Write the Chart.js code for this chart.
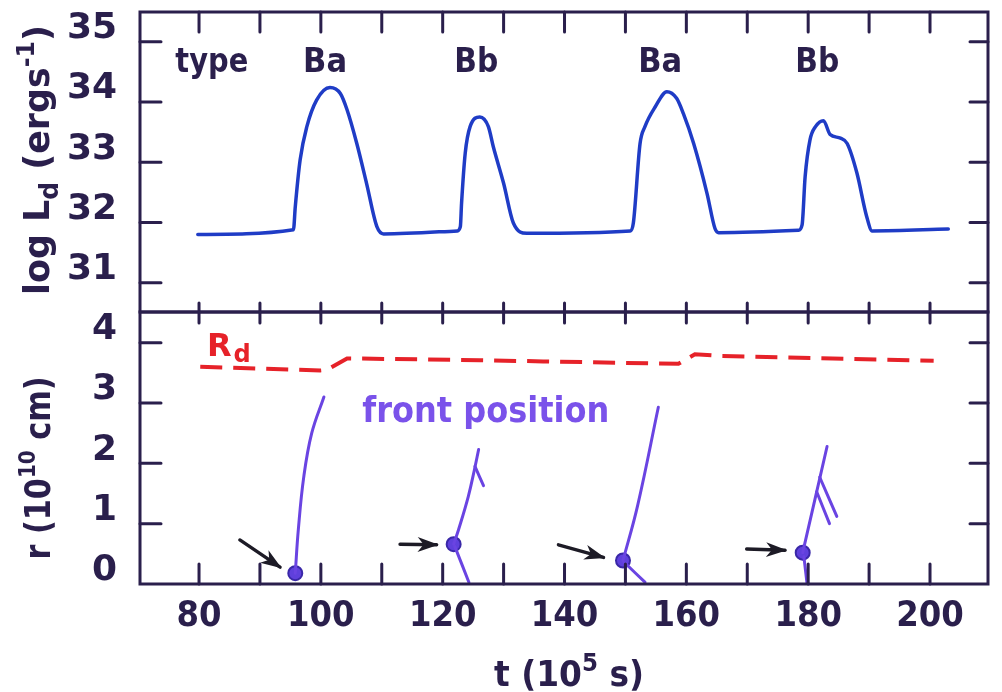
<!DOCTYPE html>
<html><head><meta charset="utf-8">
<script src="https://cdn.jsdelivr.net/npm/chart.js@4.4.1/dist/chart.umd.min.js"></script>
<style>
html,body{margin:0;padding:0;background:#fff;}
#wrap{position:relative;width:1002px;height:692px;background:#fff;}
canvas{position:absolute;left:0;top:0;}
</style></head><body>
<div id="wrap"><canvas id="topc" width="1002" height="692"></canvas><canvas id="botc" width="1002" height="692"></canvas></div>
<script>
// ---------------- data ----------------
const xTicks = [80, 90, 100, 110, 120, 130, 140, 150, 160, 170, 180, 190, 200];
const lumTicks = [31, 32, 33, 34, 35];
const rTicks = [0, 1, 2, 3, 4];

// log L_d (erg s^-1) vs t (1e5 s)
const tLum  = [79.8, 95.5, 95.8, 96.6, 97.7, 99.3, 101.5, 103.2, 104.3, 105.9, 107.5, 109.2, 110.3,
               122.4, 122.9, 123.1, 123.7, 124.5, 126.1, 127.5, 128.3, 130.0, 131.6, 133.8,
               150.8, 151.3, 152.4, 153.2, 154.9, 156.8, 158.4, 159.5, 161.2, 163.4, 164.7, 165.3,
               178.4, 179.0, 179.5, 180.3, 181.2, 182.5, 183.6, 185.3, 186.4, 188.0, 189.6, 190.5, 203.0];
const logLd = [31.80, 31.88, 32.26, 33.04, 33.59, 34.03, 34.24, 34.14, 33.87, 33.31, 32.65, 31.93, 31.81,
               31.86, 31.93, 32.32, 33.15, 33.59, 33.75, 33.59, 33.26, 32.65, 31.99, 31.82,
               31.86, 31.99, 33.31, 33.59, 33.92, 34.17, 34.06, 33.81, 33.31, 32.48, 31.90, 31.83,
               31.87, 31.96, 32.76, 33.37, 33.59, 33.69, 33.46, 33.40, 33.31, 32.82, 32.10, 31.86, 31.89];

// R_d (1e10 cm)
const tRd = [80.2, 99.9, 101.0, 104.3, 126.1, 136.5, 158.7, 161.4, 165.5, 200.6];
const rRd = [3.60, 3.54, 3.55, 3.74, 3.71, 3.69, 3.65, 3.81, 3.78, 3.70];

// front positions
const front1T = [95.8, 96.3, 97.2, 98.5, 100.5];
const front1R = [0.18, 0.90, 1.78, 2.50, 3.10];
const front2T = [121.8, 122.6, 124.2, 125.2, 125.9];
const front2R = [0.66, 0.90, 1.45, 1.89, 2.23];
const front2BranchT = [125.3, 126.7];
const front2BranchR = [1.95, 1.63];
const front2DownT = [122.0, 124.3];
const front2DownR = [0.62, 0.03];
const front3T = [149.6, 152.0, 155.4];
const front3R = [0.39, 1.30, 2.93];
const front3DownT = [149.8, 153.2];
const front3DownR = [0.36, 0.03];
const front4T = [179.1, 183.1];
const front4R = [0.52, 2.28];
const front4Branch1T = [181.9, 184.7];
const front4Branch1R = [1.77, 1.12];
const front4Branch2T = [181.4, 183.5];
const front4Branch2R = [1.53, 1.00];
const front4DownT = [179.3, 179.8];
const front4DownR = [0.45, 0.02];

// onset markers
const onsetT = [95.8, 121.8, 149.6, 179.1];
const onsetR = [0.18, 0.66, 0.39, 0.52];

// arrows pointing to onsets: tail -> head
const arrowTailT = [86.7, 113.0, 139.0, 169.9];
const arrowTailR = [0.73, 0.66, 0.65, 0.58];
const arrowHeadT = [93.3, 119.0, 146.4, 176.2];
const arrowHeadR = [0.28, 0.65, 0.44, 0.56];

// burst type labels (top panel)
const typeText = ['type', 'Ba', 'Bb', 'Ba', 'Bb'];
const typeT    = [82.1, 100.7, 125.5, 155.7, 181.5];
const typeV    = [34.50, 34.50, 34.50, 34.50, 34.50];

// ---------------- styling ----------------
const FAM = '"DejaVu Sans", "Liberation Sans", sans-serif';
const INK = '#2a1f4c';
const BLUE = '#1f3cc6';
const VIOLET = '#6a44e2';
const RED = '#e62229';
const ARROW = '#1d1b26';
const X_MIN = 70.31, X_MAX = 209.52;
const LUM_MIN = 30.514, LUM_MAX = 35.493;
const R_MIN = 0, R_MAX = 4.509;

const pts = (T, V) => T.map((t, i) => ({x: t, y: V[i]}));

function drawRich(ctx, parts, cx, cy, rot, target, color, size) {
  ctx.save();
  ctx.translate(cx, cy);
  ctx.rotate(rot);
  let w = 0;
  parts.forEach(p => {
    ctx.font = 'bold ' + (size * p.s) + 'px ' + FAM;
    p.w = ctx.measureText(p.t).width;
    w += p.w;
  });
  const k = target ? target / w : 1;
  ctx.scale(k, 1);
  ctx.fillStyle = color;
  ctx.textBaseline = 'alphabetic';
  ctx.textAlign = 'left';
  let x = -w / 2;
  parts.forEach(p => {
    ctx.font = 'bold ' + (size * p.s) + 'px ' + FAM;
    ctx.fillText(p.t, x, p.dy * size);
    x += p.w;
  });
  ctx.restore();
}

function frame(chart, topLen, botLen, yList, yAxis) {
  const {ctx, chartArea: a, scales} = chart;
  ctx.save();
  ctx.strokeStyle = INK;
  ctx.lineWidth = 3;
  ctx.lineCap = 'round';
  ctx.beginPath();
  xTicks.forEach(v => {
    const px = scales.x.getPixelForValue(v);
    ctx.moveTo(px, a.top); ctx.lineTo(px, a.top + topLen);
    ctx.moveTo(px, a.bottom); ctx.lineTo(px, a.bottom - botLen);
  });
  yList.forEach(v => {
    const py = scales[yAxis].getPixelForValue(v);
    if (Math.abs(py - a.bottom) < 2) return;
    ctx.moveTo(a.left, py); ctx.lineTo(a.left + 21, py);
    ctx.moveTo(a.right, py); ctx.lineTo(a.right - 18, py);
  });
  ctx.stroke();
  ctx.lineCap = 'butt';
  ctx.strokeRect(a.left, a.top, a.right - a.left, a.bottom - a.top);
  ctx.restore();
}

const topPlugin = {
  id: 'topDecor',
  afterDraw(chart) {
    const {ctx, scales} = chart;
    frame(chart, 20, 9, lumTicks, 'y');
    ctx.save();
    ctx.fillStyle = INK;
    ctx.textAlign = 'center';
    ctx.textBaseline = 'alphabetic';
    typeText.forEach((s, i) => {
      ctx.font = 'bold 33px ' + FAM;
      const w = ctx.measureText(s).width;
      const target = s === 'type' ? 73 : 44;
      ctx.save();
      ctx.translate(scales.x.getPixelForValue(typeT[i]), scales.y.getPixelForValue(typeV[i]));
      ctx.scale(target / w, 1);
      ctx.fillText(s, 0, 0);
      ctx.restore();
    });
    ctx.restore();
    drawRich(ctx, [
      {t: 'log L', s: 1, dy: 0},
      {t: 'd', s: 0.72, dy: 0.25},
      {t: ' (ergs', s: 1, dy: 0},
      {t: '-1', s: 0.68, dy: -0.42},
      {t: ')', s: 1, dy: 0}
    ], 49, 160, -Math.PI / 2, 270, INK, 36);
  }
};

const botPlugin = {
  id: 'botDecor',
  afterDatasetsDraw(chart) {
    const {ctx} = chart;
    chart.data.datasets.forEach((ds, i) => {
      if (!ds.isArrow) return;
      const m = chart.getDatasetMeta(i).data;
      const p0 = m[0], p1 = m[1];
      const ang = Math.atan2(p1.y - p0.y, p1.x - p0.x);
      const L = 19, H = 7.5;
      ctx.save();
      ctx.translate(p1.x, p1.y);
      ctx.rotate(ang);
      ctx.fillStyle = ARROW;
      ctx.beginPath();
      ctx.moveTo(2, 0);
      ctx.lineTo(-L, -H);
      ctx.lineTo(-L + 6, 0);
      ctx.lineTo(-L, H);
      ctx.closePath();
      ctx.fill();
      ctx.restore();
    });
  },
  afterDraw(chart) {
    const {ctx, scales} = chart;
    frame(chart, 11, 20, rTicks, 'y');
    // R_d label
    const rx = scales.x.getPixelForValue(81.3), ry = scales.y.getPixelForValue(3.78);
    ctx.save();
    ctx.fillStyle = RED;
    ctx.textAlign = 'left';
    ctx.textBaseline = 'alphabetic';
    ctx.font = 'bold 32px ' + FAM;
    ctx.fillText('R', rx, ry);
    const rw = ctx.measureText('R').width;
    ctx.font = 'bold 24px ' + FAM;
    ctx.fillText('d', rx + rw + 2, ry + 6);
    // front position label
    ctx.fillStyle = '#7a52ea';
    ctx.font = 'bold 35px ' + FAM;
    const fx = scales.x.getPixelForValue(106.8), fy = scales.y.getPixelForValue(2.69);
    const fw = ctx.measureText('front position').width;
    ctx.translate(fx, fy);
    ctx.scale(247 / fw, 1);
    ctx.fillText('front position', 0, 0);
    ctx.restore();
    drawRich(ctx, [
      {t: 'r (10', s: 1, dy: 0},
      {t: '10', s: 0.66, dy: -0.42},
      {t: ' cm)', s: 1, dy: 0}
    ], 50, 468, -Math.PI / 2, 183, INK, 36);
    drawRich(ctx, [
      {t: 't (10', s: 1, dy: 0},
      {t: '5', s: 0.7, dy: -0.42},
      {t: ' s)', s: 1, dy: 0}
    ], 569, 686, 0, 150, INK, 36);
  }
};

const yCommon = (min, max, list) => ({
  type: 'linear', min, max,
  afterFit(s) { s.width = 140; s.paddingTop = 0; s.paddingBottom = 0; },
  afterBuildTicks(s) { s.ticks = list.map(v => ({value: v})); },
  grid: {display: false, drawTicks: false},
  border: {display: false},
  ticks: {font: {family: FAM, size: 36, weight: 'bold'}, color: INK, padding: 23, labelOffset: -13,
          callback: v => String(v)}
});

new Chart(document.getElementById('topc'), {
  type: 'line',
  data: {datasets: [{
    data: pts(tLum, logLd), borderColor: BLUE, borderWidth: 3.5, pointRadius: 0,
    cubicInterpolationMode: 'monotone', fill: false, borderCapStyle: 'round', borderJoinStyle: 'round'
  }]},
  options: {
    responsive: false, animation: false, events: [],
    layout: {padding: {left: 0, right: 14, top: 12, bottom: 380}},
    plugins: {legend: {display: false}, tooltip: {enabled: false}},
    scales: {
      x: {type: 'linear', min: X_MIN, max: X_MAX, display: false},
      y: yCommon(LUM_MIN, LUM_MAX, lumTicks)
    }
  },
  plugins: [topPlugin]
});

const frontLine = (T, R) => ({
  data: pts(T, R), borderColor: VIOLET, borderWidth: 3, pointRadius: 0,
  tension: 0.4, fill: false, borderCapStyle: 'round'
});
const arrowSets = arrowTailT.map((t, i) => ({
  isArrow: true,
  data: [{x: t, y: arrowTailR[i]}, {x: arrowHeadT[i], y: arrowHeadR[i]}],
  borderColor: ARROW, borderWidth: 3.4, pointRadius: 0, fill: false, borderCapStyle: 'round'
}));

new Chart(document.getElementById('botc'), {
  type: 'line',
  data: {datasets: [
    {data: pts(tRd, rRd), borderColor: RED, borderWidth: 4, borderDash: [22, 11], pointRadius: 0,
     tension: 0, fill: false},
    frontLine(front1T, front1R),
    frontLine(front2T, front2R),
    frontLine(front2BranchT, front2BranchR),
    frontLine(front2DownT, front2DownR),
    frontLine(front3T, front3R),
    frontLine(front3DownT, front3DownR),
    frontLine(front4T, front4R),
    frontLine(front4Branch1T, front4Branch1R),
    frontLine(front4Branch2T, front4Branch2R),
    frontLine(front4DownT, front4DownR),
    ...arrowSets,
    {data: pts(onsetT, onsetR), showLine: false, pointRadius: 7, pointBackgroundColor: '#5f40dc',
     pointBorderColor: '#3a28a8', pointBorderWidth: 2}
  ]},
  options: {
    responsive: false, animation: false, events: [],
    layout: {padding: {left: 0, right: 14, top: 312, bottom: 0}},
    plugins: {legend: {display: false}, tooltip: {enabled: false}},
    scales: {
      x: {
        type: 'linear', min: X_MIN, max: X_MAX,
        afterFit(s) { s.height = 108; s.paddingLeft = 0; s.paddingRight = 0; },
        afterBuildTicks(s) { s.ticks = xTicks.map(v => ({value: v})); },
        grid: {display: false, drawTicks: false},
        border: {display: false},
        ticks: {font: {family: '"Liberation Sans Narrow", "DejaVu Sans Condensed", ' + FAM, size: 36, weight: 'bold'},
                color: INK, padding: 11, autoSkip: false, maxRotation: 0,
                callback: v => (v % 20 === 0 ? String(v) : '')}
      },
      y: yCommon(R_MIN, R_MAX, rTicks)
    }
  },
  plugins: [botPlugin]
});
</script>
</body></html>
